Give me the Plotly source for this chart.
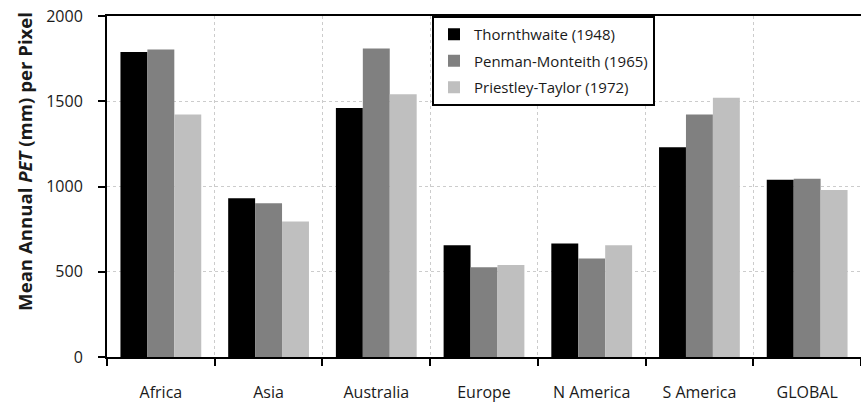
import plotly.graph_objects as go

categories = ["Africa", "Asia", "Australia", "Europe", "N America", "S America", "GLOBAL"]
thornthwaite = [1789, 931, 1460, 655, 665, 1230, 1040]
penman_monteith = [1803, 902, 1810, 527, 577, 1423, 1046]
priestley_taylor = [1423, 794, 1541, 540, 656, 1520, 979]
series_names = ["Thornthwaite (1948)", "Penman-Monteith (1965)", "Priestley-Taylor (1972)"]
colors = ["#000000", "#808080", "#bfbfbf"]
y_ticks = [0, 500, 1000, 1500, 2000]

FONT = "Open Sans"
TXT = "#1a1a1a"

fig = go.Figure()
for i, (name, vals, col) in enumerate(zip(series_names, [thornthwaite, penman_monteith, priestley_taylor], colors)):
    fig.add_trace(go.Bar(x=categories, y=vals, name=name, legendgroup=f"g{i}",
                         marker=dict(color=col, line=dict(width=0))))

fig.update_layout(
    width=861, height=403,
    margin=dict(l=107, r=0, t=16, b=46, autoexpand=False),
    paper_bgcolor="white", plot_bgcolor="white",
    barmode="group", bargap=0.25, bargroupgap=0,
    font=dict(family=FONT, size=16, color=TXT),
    showlegend=True,
    legend=dict(x=0.431, y=1.0, xanchor="left", yanchor="top",
                bgcolor="white", bordercolor="#000", borderwidth=2,
                font=dict(family=FONT, size=15, color=TXT),
                traceorder="grouped", tracegroupgap=4, itemwidth=30),
    annotations=[dict(
        text="<b>Mean Annual <i>PET</i> (mm) per Pixel</b>",
        xref="paper", yref="paper", x=-0.1088, y=0.575,
        xanchor="center", yanchor="middle", textangle=-90, showarrow=False,
        font=dict(family=FONT, size=18.6, color=TXT),
    )],
)
fig.update_xaxes(
    type="category", tickson="boundaries", automargin=False,
    showgrid=True, gridcolor="#cccccc", griddash="dot", gridwidth=1,
    showline=True, linecolor="#000", linewidth=2, mirror=True,
    ticks="outside", ticklen=7, tickwidth=2, tickcolor="#000",
    ticklabelstandoff=20,
    tickfont=dict(family=FONT, size=16, color=TXT),
)
fig.update_yaxes(
    range=[0, 2000], tickvals=y_ticks, automargin=False,
    showgrid=True, gridcolor="#cccccc", griddash="dot", gridwidth=1,
    showline=True, linecolor="#000", linewidth=2,
    ticks="outside", ticklen=7, tickwidth=2, tickcolor="#000",
    ticklabelstandoff=12, ticklabeloverflow="allow",
    tickfont=dict(family=FONT, size=16, color=TXT),
    zeroline=False,
)
fig.write_html("out.html", config={"displayModeBar": False},
               post_script="document.body.style.margin='0';")
